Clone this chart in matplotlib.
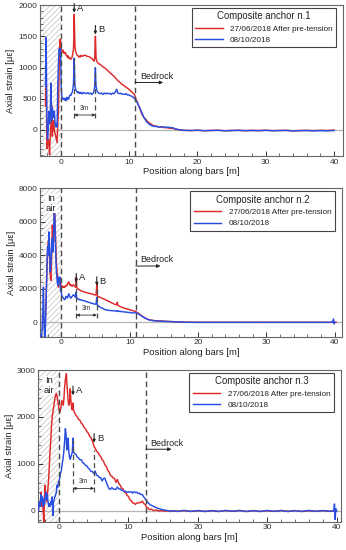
import numpy as np
import matplotlib
matplotlib.use("Agg")
import matplotlib.pyplot as plt
from matplotlib.ticker import MultipleLocator

nan = np.nan

# ---------------- Panel 1 data ----------------
pos1 = [-2.2,-2.1,-2.0,-1.9,-1.8,-1.7,-1.6,-1.5,-1.4,-1.3,
        -1.2,-1.1,-1.0,-0.9,-0.8,-0.7,-0.6,-0.5,-0.4,-0.3,
        -0.2,-0.1,
        0.0,0.1,0.2,0.3,0.4,0.5,0.6,0.7,0.8,0.9,
        1.0,1.1,1.2,1.3,1.4,1.5,1.6,1.7,1.8,1.9,
        1.95,2.0,2.05,2.1,2.2,2.3,2.4,2.5,2.6,2.7,
        2.8,2.9,3.0,3.2,3.4,3.6,3.8,4.0,4.2,4.4,
        4.6,4.8,4.9,5.0,5.05,5.1,5.15,5.2,5.3,5.4,
        5.6,5.8,6.0,6.2,6.4,6.6,6.8,7.0,7.2,7.4,
        7.6,7.8,8.0,8.2,8.4,8.6,8.8,9.0,9.2,9.4,
        9.6,9.8,10.0,10.2,10.4,10.6,10.8,11.0,11.2,11.4,
        11.6,11.8,12.0,12.2,12.4,12.6,12.8,13.0,13.3,13.6,
        14.0,14.4,14.8,15.2,15.6,16.0,16.4,16.8,17.2,17.6,
        18,19,20,21,22,23,24,25,26,27,
        28,29,30,31,32,33,34,35,36,37,
        38,39,40]
red1 = [380,1100,-300,-250,-150,-200,-400,-100,100,400,
        -100,50,150,-20,-50,-100,-150,-200,100,300,
        1000,1450,
        1450,1300,1285,1245,1275,1228,1225,1242,1198,1195,
        1165,1185,1148,1162,1135,1132,1152,1168,1225,1300,
        1500,1850,1600,1350,1262,1228,1205,1188,1185,1166,
        1182,1168,1195,1178,1192,1198,1182,1178,1172,1158,
        1142,1118,1100,1150,1350,1500,1300,1150,1098,1082,
        1058,1052,1028,1012,998,982,958,942,918,902,
        878,862,838,812,788,772,748,732,718,702,
        682,668,652,628,612,588,572,500,452,398,
        342,278,232,198,182,148,132,108,92,68,
        62,48,46,38,36,28,26,14,6,2,
        -5,-10,-4,-12,-8,-3,-12,-7,-5,-11,
        -6,-9,-4,-10,-7,-5,-13,-8,-6,-10,
        -5,-8,-2]
blue1 = [700,1480,200,-150,0,300,100,250,750,150,
         350,300,200,300,100,50,100,50,700,1100,
         1300,1250,
         1300,700,522,498,488,512,478,502,468,522,
         488,512,498,542,558,552,578,602,648,752,
         950,1150,900,720,652,628,612,598,612,588,
         602,588,602,578,602,588,582,598,578,592,
         568,592,622,700,850,1000,800,700,638,612,
         588,582,592,568,592,578,592,578,588,568,
         592,578,602,652,588,582,588,572,578,568,
         582,558,562,548,542,528,502,478,442,398,
         352,298,252,198,162,128,112,88,72,58,
         56,48,52,44,46,40,36,18,8,0,
         -5,-8,-4,-10,-8,-6,-12,-9,-6,-10,
         -8,-11,-6,-12,-9,-7,-14,-10,-9,-13,
         -10,-12,-8]

# ---------------- Panel 2 data ----------------
pos2 = [-3.0,-2.9,-2.8,-2.7,-2.6,-2.5,-2.4,-2.3,-2.2,-2.1,
        -2.0,-1.9,-1.8,-1.7,-1.6,-1.5,-1.4,-1.3,-1.2,-1.1,
        -1.0,-0.9,-0.8,-0.7,-0.6,-0.5,-0.4,-0.3,-0.2,-0.1,
        0.0,0.1,0.2,0.3,0.4,0.5,0.6,0.7,0.8,0.9,
        1.0,1.1,1.2,1.3,1.4,1.5,1.6,1.7,1.8,1.9,
        2.0,2.1,2.15,2.2,2.25,2.3,2.4,2.5,2.6,2.7,
        2.8,2.9,3.0,3.2,3.4,3.6,3.8,4.0,4.2,4.4,
        4.6,4.8,5.0,5.1,5.15,5.2,5.25,5.3,5.4,5.5,
        5.6,5.8,6.0,6.2,6.4,6.6,6.8,7.0,7.2,7.4,
        7.6,7.8,8.0,8.1,8.2,8.3,8.4,8.6,8.8,9.0,
        9.2,9.4,9.6,9.8,10.0,10.2,10.4,10.6,10.8,11.0,
        11.2,11.4,11.6,11.8,12.0,12.2,12.4,12.6,12.8,13.0,
        13.3,13.6,14.0,14.4,14.8,15.2,15.6,16.0,16.4,16.8,
        17.2,17.6,18,19,20,21,22,23,24,25,
        26,27,28,29,30,31,32,33,34,35,
        36,37,38,39,39.6,39.7,39.8,39.9,40,40.2]
red2 = [nan,nan,nan,nan,nan,-300,-100,300,1500,3000,
        4200,4800,5000,3800,2800,2500,3800,5800,5200,4800,
        7300,6000,4800,3500,3000,2600,2100,2400,2600,2300,
        2200,2080,2160,2090,2130,2080,2160,2210,2170,2260,
        2350,2410,2290,2200,2260,2190,2150,2210,2240,2190,
        2150,2090,2300,2700,2200,2050,2010,1970,1960,1920,
        1910,1870,1870,1830,1810,1780,1770,1730,1730,1690,
        1690,1640,1630,1650,1900,2300,1700,1560,1550,1510,
        1510,1460,1440,1390,1370,1310,1290,1230,1210,1150,
        1130,1070,1050,1060,1200,1000,990,940,920,870,
        860,810,810,770,760,710,710,670,670,610,
        570,500,440,380,330,280,230,190,160,140,
        120,100,90,80,70,60,50,45,40,35,
        25,15,10,5,0,-5,0,-6,2,-5,
        0,-4,2,-6,0,-3,2,-5,0,-4,
        0,-5,0,-5,0,-6,0,-5,0,0]
blue2 = [-800,-1000,-500,500,2100,-200,-900,-200,1500,3000,
         4500,4000,5400,4500,3000,3500,4500,5000,4200,5500,
         6900,5800,4000,3000,2500,2200,2700,2400,2700,1900,
         1800,1600,1500,1460,1390,1350,1410,1550,1490,1450,
         1560,1700,1590,1500,1440,1510,1540,1610,1640,1600,
         1540,1500,1600,1800,1500,1420,1410,1370,1380,1340,
         1350,1320,1330,1290,1290,1240,1230,1190,1180,1130,
         1130,1090,1080,1100,1300,1500,1100,1000,990,940,
         930,870,860,790,770,720,730,700,710,690,
         700,670,690,660,690,650,670,640,650,620,
         630,600,610,580,590,560,570,550,580,550,
         520,470,420,360,310,260,220,180,150,130,
         110,90,80,70,60,50,45,40,35,30,
         20,10,5,0,-5,0,-6,0,-4,0,
         -5,0,-4,0,-6,0,-5,0,-4,0,
         -5,0,-4,0,0,100,200,-100,0,nan]

# ---------------- Panel 3 data ----------------
pos3 = [-3.0,-2.9,-2.8,-2.7,-2.6,-2.5,-2.4,-2.3,-2.2,-2.1,
        -2.0,-1.9,-1.8,-1.7,-1.6,-1.5,-1.4,-1.3,-1.2,-1.1,
        -1.0,-0.9,-0.8,-0.7,-0.6,-0.5,-0.4,-0.3,-0.2,-0.1,
        0.0,0.1,0.2,0.3,0.4,0.5,0.6,0.7,0.8,0.9,
        1.0,1.05,1.1,1.2,1.3,1.4,1.5,1.6,1.7,1.8,
        1.9,1.95,2.0,2.05,2.1,2.2,2.4,2.6,2.8,3.0,
        3.2,3.4,3.6,3.8,4.0,4.2,4.4,4.6,4.8,5.0,
        5.1,5.2,5.4,5.6,5.8,6.0,6.2,6.4,6.6,6.8,
        7.0,7.2,7.4,7.6,7.8,8.0,8.2,8.4,8.6,8.8,
        9.0,9.2,9.4,9.6,9.8,10.0,10.2,10.4,10.6,10.8,
        11.0,11.2,11.4,11.6,11.8,12.0,12.2,12.4,12.6,12.8,
        13.0,13.3,13.6,14.0,14.4,14.8,15.2,15.6,16.0,16.5,
        17,18,19,20,21,22,23,24,25,26,
        27,28,29,30,31,32,33,34,35,36,
        37,38,39,39.6,39.7,39.8,39.9,40]
red3 = [0,100,200,150,400,100,200,0,-250,300,
        550,300,200,300,500,700,1000,1300,1500,1800,
        2000,2100,2200,2300,2400,2450,2500,2450,2350,2250,
        2150,2100,2150,2250,2350,2300,2250,2400,2650,2800,
        2850,2920,2750,2550,2350,2250,2300,2600,2350,2200,
        2150,2250,2300,2180,2150,2100,2040,2010,1950,1930,
        1870,1840,1780,1750,1690,1660,1590,1560,1490,1400,
        1350,1340,1270,1250,1190,1160,1090,1060,980,950,
        870,830,760,740,700,690,610,670,590,550,
        490,470,410,390,330,310,240,220,170,170,
        140,170,170,180,180,210,160,140,80,70,
        30,40,10,20,0,10,-5,5,-10,5,
        -5,8,-10,6,-8,5,-10,8,-6,10,
        -8,6,-10,5,-8,10,-6,8,-10,5,
        -8,6,-5,0,5,-5,0,0]
blue3 = [0,150,200,100,350,200,300,100,250,150,
         300,400,250,350,200,100,150,100,200,150,
         300,-100,200,250,300,350,400,550,500,600,
         650,700,800,850,950,1050,1150,1300,1500,1750,
         1650,1450,1300,1350,1550,1250,1150,1100,1150,1200,
         1250,1400,1550,1300,1250,1220,1210,1150,1130,1090,
         1090,1030,1010,970,960,910,890,840,840,800,
         820,850,760,750,710,710,640,690,700,610,
         540,470,460,500,470,460,460,510,470,470,
         440,440,410,420,390,410,400,410,380,410,
         390,400,370,380,350,350,300,260,220,180,
         150,120,100,70,50,30,20,10,0,5,
         -10,12,-8,10,-12,8,-10,12,-6,10,
         -12,8,-10,12,-8,10,-12,6,-10,12,
         -8,10,-6,0,150,-180,50,0]

panel_titles = ["Composite anchor n.1", "Composite anchor n.2", "Composite anchor n.3"]
series_labels = ["27/06/2018 After pre-tension", "08/10/2018"]
bedrock_pos = [10.9, 10.9, 12.5]
point_a = [2.0, 2.2, 2.0]
point_b = [5.1, 5.2, 5.05]
x_label = "Position along bars [m]"
y_label = "Axial strain [με]"

plt.rcParams['font.family'] = ['Liberation Sans', 'DejaVu Sans']
plt.rcParams['hatch.linewidth'] = 0.5
plt.rcParams['hatch.color'] = '#b8b8b8'

RED = '#dd2a2a'
BLUE = '#2a4fe0'
DASH = '#4a4a4a'

fig = plt.figure(figsize=(3.46, 5.5), dpi=100)

rects = [
    [40/346, 1-156/550, 303/346, 151/550],
    [40/346, 1-336.7/550, 301.7/346, 148.4/550],
    [38.3/346, 1-521.7/550, 302.4/346, 151.7/550],
]
xlims = [(-3.0, 41.3), (-3.1, 41.0), (-3.0, 40.6)]
ylims = [(-416, 2000), (-860, 8000), (-228, 3000)]
ymajor = [500, 2000, 1000]
yminor = [100, 400, 200]

data = [(pos1, red1, blue1), (pos2, red2, blue2), (pos3, red3, blue3)]

a_label_y = [1950, 2650, 2560]
b_label_y = [1600, 2450, 1550]
a_top = [1150, 2500, 1500]
b_top = [1000, 2200, 1300]
dash_bottom = [200, 250, 400]
arrow_y = [240, 430, 480]
bed_text_y = [850, 3720, 1440]
bed_arrow_y = [760, 3360, 1314]
bed_arrow_end = [15.0, 14.5, 16.2]

for i in range(3):
    ax = fig.add_axes(rects[i])
    xs, rs, bs = data[i]
    ax.set_xlim(*xlims[i])
    ax.set_ylim(*ylims[i])
    ax.axvspan(xlims[i][0], 0, facecolor='none', edgecolor='#c0c0c0', hatch='//////', lw=0, zorder=0)
    ax.axhline(0, color='#b5b5b5', lw=0.9, zorder=1)
    ax.plot(xs, rs, color=RED, lw=1.05, label=series_labels[0], zorder=3)
    ax.plot(xs, bs, color=BLUE, lw=1.05, label=series_labels[1], zorder=3)
    ax.axvline(0, color=DASH, lw=1.0, ls=(0, (4, 2.5)), zorder=4)
    ax.axvline(bedrock_pos[i], color=DASH, lw=1.0, ls=(0, (4, 2.5)), zorder=4)

    yr = ylims[i][1] - ylims[i][0]
    for px, ly, lab in [(point_a[i], a_label_y[i], 'A'), (point_b[i], b_label_y[i], 'B')]:
        ax.annotate('', xy=(px, ly - 0.03*yr), xytext=(px, ly + 0.03*yr),
                    arrowprops=dict(arrowstyle='-|>', color='#222222', lw=0.8,
                                    mutation_scale=4, shrinkA=0, shrinkB=0), zorder=5)
        ax.text(px + 0.4, ly, lab, fontsize=6.8, ha='left', va='center', color='#222222', zorder=5)
    ax.plot([point_a[i], point_a[i]], [dash_bottom[i], a_top[i]], color=DASH, lw=0.9,
            ls=(0, (4, 2.5)), zorder=4)
    ax.plot([point_b[i], point_b[i]], [dash_bottom[i], b_top[i]], color=DASH, lw=0.9,
            ls=(0, (4, 2.5)), zorder=4)
    ax.annotate('', xy=(point_a[i], arrow_y[i]), xytext=(point_b[i], arrow_y[i]),
                arrowprops=dict(arrowstyle='<|-|>', color='#333333', lw=0.6,
                                mutation_scale=4, shrinkA=0, shrinkB=0), zorder=5)
    ax.text((point_a[i] + point_b[i]) / 2, arrow_y[i] + 0.02*yr, '3m', fontsize=4.8,
            ha='center', va='bottom', color='#333333', zorder=5)

    ax.text(bedrock_pos[i] + 0.7, bed_text_y[i], 'Bedrock', fontsize=6.5, ha='left',
            va='center', color='#222222', zorder=5)
    ax.annotate('', xy=(bed_arrow_end[i], bed_arrow_y[i]), xytext=(bedrock_pos[i], bed_arrow_y[i]),
                arrowprops=dict(arrowstyle='-|>', color='#222222', lw=0.7,
                                mutation_scale=5, shrinkA=0, shrinkB=0), zorder=5)

    if i > 0:
        ax.text(-1.5, ylims[i][1] - 0.04*yr, 'In\nair', fontsize=6.8, ha='center', va='top',
                color='#222222', linespacing=1.1, zorder=5,
                bbox=dict(facecolor='white', edgecolor='none', pad=0.3))

    ax.xaxis.set_major_locator(MultipleLocator(10))
    ax.xaxis.set_minor_locator(MultipleLocator(2))
    ax.yaxis.set_major_locator(MultipleLocator(ymajor[i]))
    ax.yaxis.set_minor_locator(MultipleLocator(yminor[i]))
    ax.tick_params(which='both', direction='in', labelsize=6.0, colors='#333333',
                   top=False, right=False, pad=2)
    ax.tick_params(which='major', length=3.5, width=0.7)
    ax.tick_params(which='minor', length=2, width=0.5)
    for s in ax.spines.values():
        s.set_color('#666666')
        s.set_linewidth(0.8)
    ax.set_xlabel(x_label, fontsize=6.8, color='#222222', labelpad=1)
    ax.set_ylabel(y_label, fontsize=6.8, color='#222222', labelpad=2)

    w_px = rects[i][2] * 346
    h_px = rects[i][3] * 550
    leg = ax.legend(title=panel_titles[i], loc='upper right',
                    bbox_to_anchor=(1 - 7/w_px, 1 - 3/h_px), borderaxespad=0,
                    fontsize=5.9, title_fontsize=6.9,
                    frameon=True, fancybox=False, edgecolor='#444444', framealpha=1,
                    handlelength=3.4, handletextpad=0.9, borderpad=0.4,
                    labelspacing=0.45)
    leg.get_frame().set_linewidth(0.8)
    leg.get_title().set_color('#222222')
    for t in leg.get_texts():
        t.set_color('#222222')
    leg.set_zorder(10)

fig.savefig('out.png', dpi=100)
